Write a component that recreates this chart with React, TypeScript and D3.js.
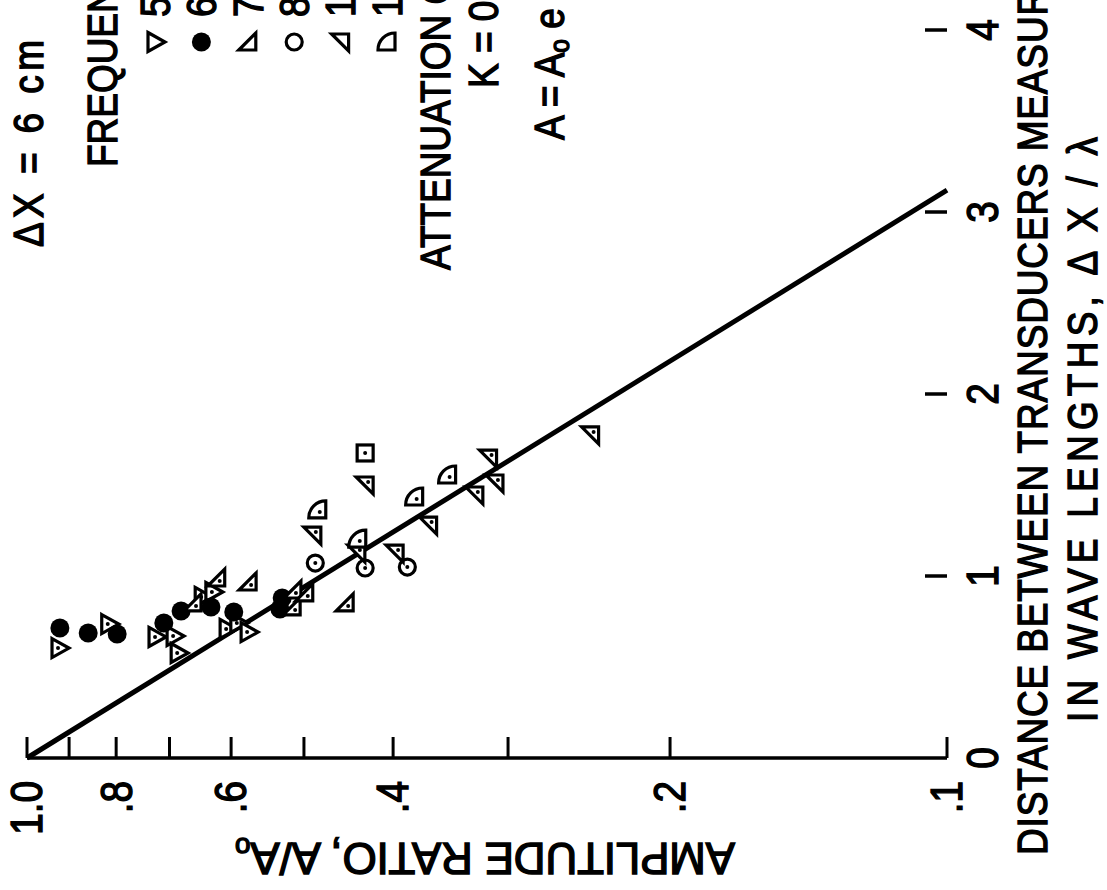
import * as d3 from 'd3';

// amplitude ratio axis (log) and distance axis
const ampTicks = [1.0, 0.9, 0.8, 0.7, 0.6, 0.5, 0.4, 0.3, 0.2, 0.1];
const ampLabelValues = [1.0, 0.8, 0.6, 0.4, 0.2, 0.1];
const ampLabelTexts = ['1.0', '.8', '.6', '.4', '.2', '.1'];
const distTicks = [1, 2, 3, 4];
const distLabels = ['0', '1', '2', '3', '4'];

// attenuation fit, A = Ao e^(-K dx/lambda)
const fitK = 0.738;

// data points: [dx/lambda, A/Ao]
const triRight = [
  [0.604, 0.923], [0.736, 0.815], [0.665, 0.724], [0.670, 0.692], [0.577, 0.685],
  [0.885, 0.645], [0.912, 0.628], [0.709, 0.606], [0.742, 0.590], [0.692, 0.575],
];
const filledDots = [
  [0.714, 0.921], [0.687, 0.858], [0.681, 0.798], [0.742, 0.710], [0.808, 0.680],
  [0.830, 0.631], [0.802, 0.596], [0.879, 0.528], [0.819, 0.531],
];
const triLow = [
  [0.852, 0.660], [0.989, 0.622], [0.967, 0.575], [0.923, 0.514], [0.830, 0.515],
  [0.907, 0.499], [0.852, 0.451],
];
const openDots = [[1.071, 0.486], [1.044, 0.429], [1.049, 0.386]];
const triHigh = [
  [1.225, 0.489], [1.500, 0.429], [1.126, 0.438], [1.126, 0.398], [1.280, 0.366],
  [1.445, 0.326], [1.648, 0.315], [1.511, 0.310], [1.775, 0.244],
];
const quarters = [[1.363, 0.483], [1.203, 0.437], [1.434, 0.379], [1.555, 0.349]];
const squares = [[1.676, 0.429]];

const legendKinds = ['triRight', 'filled', 'triLow', 'open', 'triHigh', 'quarter'];
const legendValues = ['5 kc', '6 kc', '7 kc', '8 kc', '10 kc', '12 kc'];

const W = 1107;
const H = 890;
const FONT = "'Liberation Sans', Arial, sans-serif";
const SX = 0.88; // lettering is narrower than Arial
const WEIGHT = 1.4;

function Marker({ kind, x, y, dot }: { kind: string; x: number; y: number; dot: boolean }) {
  const sw = 3.2;
  let shape: any = null;
  if (kind === 'filled') return <circle cx={x} cy={y} r={9.5} fill="#000" />;
  if (kind === 'open') shape = <circle cx={0} cy={0} r={8} fill="#fff" stroke="#000" strokeWidth={sw} />;
  if (kind === 'triRight') shape = <path d="M-7,-9.5L10,0L-7,9.5Z" fill="#fff" stroke="#000" strokeWidth={sw} />;
  if (kind === 'triLow') shape = <path d="M-9,8L8,8L8,-9Z" fill="#fff" stroke="#000" strokeWidth={sw} />;
  if (kind === 'triHigh') shape = <path d="M-9,-8L8,-8L8,9Z" fill="#fff" stroke="#000" strokeWidth={sw} />;
  if (kind === 'quarter') shape = <path d="M8,8L-9,8A17,17 0 0 1 8,-9Z" fill="#fff" stroke="#000" strokeWidth={sw} />;
  if (kind === 'square') shape = <rect x={-8} y={-8} width={16} height={16} fill="#fff" stroke="#000" strokeWidth={sw} />;
  const off = kind === 'triRight' ? [-1, 0] : kind === 'triLow' ? [3, 3] : kind === 'triHigh' ? [3, -3] : kind === 'quarter' ? [2, 2] : [0, 0];
  return (
    <g transform={`translate(${x},${y})`}>
      {shape}
      {dot && <circle cx={off[0]} cy={off[1]} r={2} fill="#000" />}
    </g>
  );
}

// text that reads bottom to top, as in the rotated figure
function VText({ x, y, children, size = 42, anchor = 'start', len, spacing }: any) {
  return (
    <text transform={`translate(${x},${y}) rotate(-90) scale(${SX},1)`} fontSize={size} fontFamily={FONT}
      textAnchor={anchor} dominantBaseline="central" fill="#000" stroke="#000" strokeWidth={WEIGHT}
      letterSpacing={spacing}
      textLength={len ? len / SX : undefined} lengthAdjust={len ? 'spacing' : undefined}>
      {children}
    </text>
  );
}

export default function App() {
  const aScale = d3.scaleLog().domain([1, 0.1]).range([27, 947]);
  const dScale = d3.scaleLinear().domain([0, 4]).range([758, 30]);
  const y0 = dScale(0);
  const xEnd = aScale(0.1);

  const fitLine = d3.line<number>()
    .x(d => aScale(Math.exp(-fitK * d)))
    .y(d => dScale(d));
  const fitPath = fitLine([0, Math.log(10) / fitK]) || '';

  const series: [string, number[][]][] = [
    ['triRight', triRight], ['filled', filledDots], ['triLow', triLow], ['open', openDots],
    ['triHigh', triHigh], ['quarter', quarters], ['square', squares],
  ];

  const legendX = d3.scalePoint<string>().domain(legendKinds).range([155, 387]);

  return (
    <svg width={W} height={H} style={{ position: 'absolute', left: 0, top: 0, background: '#fff' }}>
      <rect width={W} height={H} fill="#fff" />

      {/* amplitude axis */}
      <line x1={aScale(1)} x2={xEnd} y1={y0} y2={y0} stroke="#000" strokeWidth={3.5} />
      {ampTicks.map(t => (
        <line key={t} x1={aScale(t)} x2={aScale(t)} y1={y0} y2={y0 - 21} stroke="#000" strokeWidth={3} />
      ))}
      {ampLabelValues.map((v, i) => (
        <VText key={v} x={aScale(v)} y={781} anchor="end" size={44}>{ampLabelTexts[i]}</VText>
      ))}
      <text transform={`translate(485,858) rotate(180)`} fontSize={44} fontFamily={FONT}
        textAnchor="middle" dominantBaseline="central" stroke="#000" strokeWidth={WEIGHT}
        textLength={500} lengthAdjust="spacing">
        AMPLITUDE RATIO, A/A<tspan fontSize={28} dy={10}>o</tspan>
      </text>

      {/* distance ticks */}
      {distTicks.map(t => (
        <line key={t} x1={xEnd - 22} x2={xEnd} y1={dScale(t)} y2={dScale(t)} stroke="#000" strokeWidth={3.5} />
      ))}
      {distLabels.map((t, i) => (
        <VText key={t} x={983} y={dScale(i)} anchor="middle" size={44}>{t}</VText>
      ))}
      <VText x={1032} y={855} spacing={1}>DISTANCE  BETWEEN  TRANSDUCERS  MEASURED</VText>
      <VText x={1082} y={722} len={585}>IN  WAVE  LENGTHS,  Δ X / λ</VText>

      {/* fit line */}
      <path d={fitPath} fill="none" stroke="#000" strokeWidth={5} />

      {/* data */}
      {series.map(([kind, pts]) => pts.map((p, i) => (
        <Marker key={kind + i} kind={kind} x={aScale(p[1])} y={dScale(p[0])} dot={kind !== 'filled'} />
      )))}

      {/* legend */}
      <VText x={28} y={247} len={207}>ΔX = 6 cm</VText>
      <VText x={102} y={167}>FREQUENCY, KC</VText>
      {legendKinds.map((k, i) => (
        <g key={k}>
          <Marker kind={k} x={legendX(k) || 0} y={42} dot={false} />
          <VText x={legendX(k) || 0} y={17}>{legendValues[i]}</VText>
        </g>
      ))}
      <VText x={435} y={270}>ATTENUATION  COEFFICIENT</VText>
      <VText x={483} y={88}>K = 0.74</VText>
      <VText x={549} y={140}>A = A<tspan fontSize={28} dy={10}>o</tspan><tspan dy={-10}> e</tspan></VText>
    </svg>
  );
}
